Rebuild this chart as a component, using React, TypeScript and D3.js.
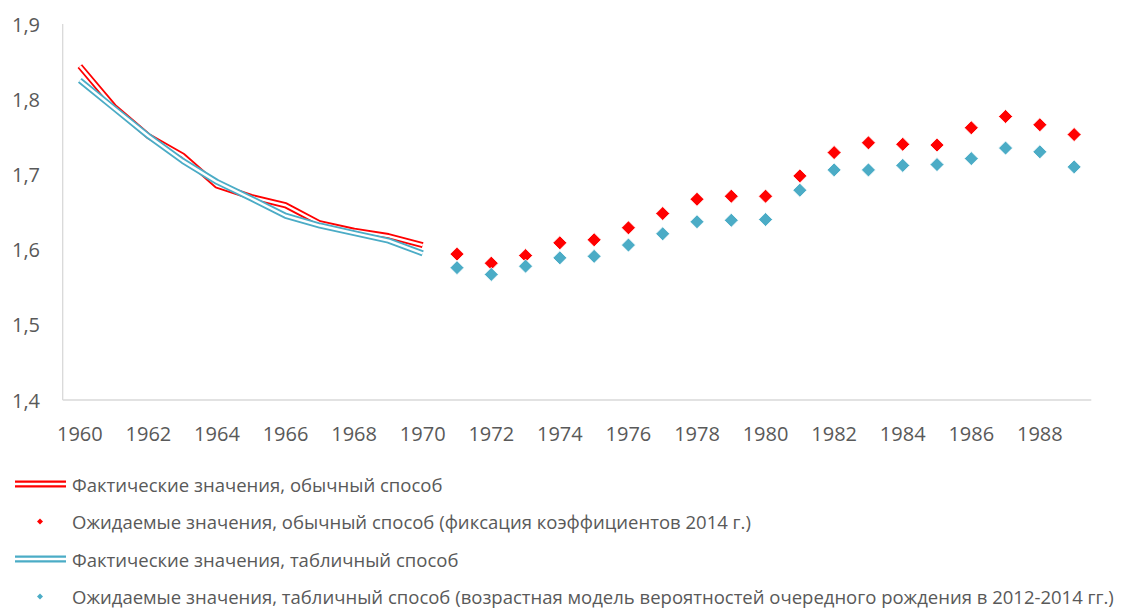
import React from "react";
import * as d3 from "d3";

const years: number[] = d3.range(1960, 1990);
const tickYears: number[] = [1960, 1962, 1964, 1966, 1968, 1970, 1972, 1974, 1976, 1978, 1980, 1982, 1984, 1986, 1988];
const yTicks: number[] = [1.4, 1.5, 1.6, 1.7, 1.8, 1.9];

const actualYears: number[] = [1960, 1961, 1962, 1963, 1964, 1965, 1966, 1967, 1968, 1969, 1970];
const actualUsual: number[] = [1.844, 1.790, 1.751, 1.725, 1.685, 1.670, 1.659, 1.635, 1.625, 1.618, 1.606];
const actualTable: number[] = [1.825, 1.788, 1.751, 1.718, 1.690, 1.668, 1.645, 1.632, 1.622, 1.612, 1.595];

const expectedYears: number[] = [1971, 1972, 1973, 1974, 1975, 1976, 1977, 1978, 1979, 1980, 1981, 1982, 1983, 1984, 1985, 1986, 1987, 1988, 1989];
const expectedUsual: number[] = [1.594, 1.582, 1.592, 1.609, 1.613, 1.629, 1.648, 1.667, 1.671, 1.671, 1.698, 1.729, 1.742, 1.740, 1.739, 1.762, 1.777, 1.766, 1.753];
const expectedTable: number[] = [1.576, 1.567, 1.578, 1.589, 1.591, 1.606, 1.621, 1.637, 1.639, 1.640, 1.679, 1.706, 1.706, 1.712, 1.713, 1.721, 1.735, 1.730, 1.710];

const legendLabels: string[] = [
  "Фактические значения, обычный способ",
  "Ожидаемые значения, обычный способ (фиксация коэффициентов 2014 г.)",
  "Фактические значения, табличный способ",
  "Ожидаемые значения, табличный способ (возрастная модель вероятностей очередного рождения в 2012-2014 гг.)",
];

const RED = "#FF0000";
const BLUE = "#4BACC6";
const TEXT = "#595959";
const AXIS = "#D9D9D9";
const FONT = "'Open Sans', 'Noto Sans', sans-serif";

const W = 1131;
const H = 610;
const left = 62.7;
const right = 1091.3;
const top = 24;
const bottom = 400;

export default function App() {
  const x = d3.scaleBand<number>().domain(years).range([left, right]).paddingInner(0).paddingOuter(0);
  const cx = (yr: number) => (x(yr) as number) + x.bandwidth() / 2;
  const y = d3.scaleLinear().domain([1.4, 1.9]).range([bottom, top]);

  const line = d3
    .line<[number, number]>()
    .x((d) => cx(d[0]))
    .y((d) => y(d[1]));

  const usualPts: [number, number][] = actualYears.map((yr, i) => [yr, actualUsual[i]]);
  const tablePts: [number, number][] = actualYears.map((yr, i) => [yr, actualTable[i]]);

  const diamond = (px: number, py: number, r: number) =>
    `M${px},${py - r}L${px + r},${py}L${px},${py + r}L${px - r},${py}Z`;

  const legendY = [484, 521.5, 559, 596.5];

  return (
    <svg width={W} height={H} style={{ position: "absolute", left: 0, top: 0, background: "#fff" }}>
      {/* axes */}
      <line x1={left} x2={left} y1={top} y2={bottom} stroke={AXIS} strokeWidth={1.3} />
      <line x1={left} x2={right} y1={bottom} y2={bottom} stroke={AXIS} strokeWidth={1.3} />

      {yTicks.map((t) => (
        <text
          key={t}
          x={40}
          y={y(t)}
          textAnchor="end"
          dominantBaseline="central"
          fontFamily={FONT}
          fontSize={20}
          fill={TEXT}
        >
          {d3.format(".1f")(t).replace(".", ",")}
        </text>
      ))}
      {tickYears.map((t) => (
        <text
          key={t}
          x={cx(t)}
          y={433}
          textAnchor="middle"
          dominantBaseline="central"
          fontFamily={FONT}
          fontSize={20}
          fill={TEXT}
        >
          {t}
        </text>
      ))}

      {/* double lines */}
      <path d={line(usualPts) || ""} fill="none" stroke={RED} strokeWidth={6} strokeLinejoin="round" />
      <path d={line(usualPts) || ""} fill="none" stroke="#fff" strokeWidth={2.4} strokeLinejoin="round" />
      <path d={line(tablePts) || ""} fill="none" stroke={BLUE} strokeWidth={6} strokeLinejoin="round" />
      <path d={line(tablePts) || ""} fill="none" stroke="#fff" strokeWidth={2.4} strokeLinejoin="round" />

      {/* expected markers */}
      {expectedYears.map((yr, i) => (
        <path key={"r" + yr} d={diamond(cx(yr), y(expectedUsual[i]), 7)} fill={RED} stroke="#fff" strokeWidth={0.8} />
      ))}
      {expectedYears.map((yr, i) => (
        <path key={"b" + yr} d={diamond(cx(yr), y(expectedTable[i]), 7)} fill={BLUE} stroke="#fff" strokeWidth={0.8} />
      ))}

      {/* legend */}
      {legendLabels.map((lab, i) => {
        const ly = legendY[i];
        const color = i < 2 ? RED : BLUE;
        const isLine = i % 2 === 0;
        return (
          <g key={lab}>
            {isLine ? (
              <>
                <line x1={15} x2={66} y1={ly} y2={ly} stroke={color} strokeWidth={7} />
                <line x1={15} x2={66} y1={ly} y2={ly} stroke="#fff" strokeWidth={2.6} />
              </>
            ) : (
              <path d={diamond(40, ly, 3)} fill={color} />
            )}
            <text
              x={72}
              y={ly}
              dominantBaseline="central"
              fontFamily={FONT}
              fontSize={18.5}
              fill={TEXT}
            >
              {lab}
            </text>
          </g>
        );
      })}
    </svg>
  );
}
